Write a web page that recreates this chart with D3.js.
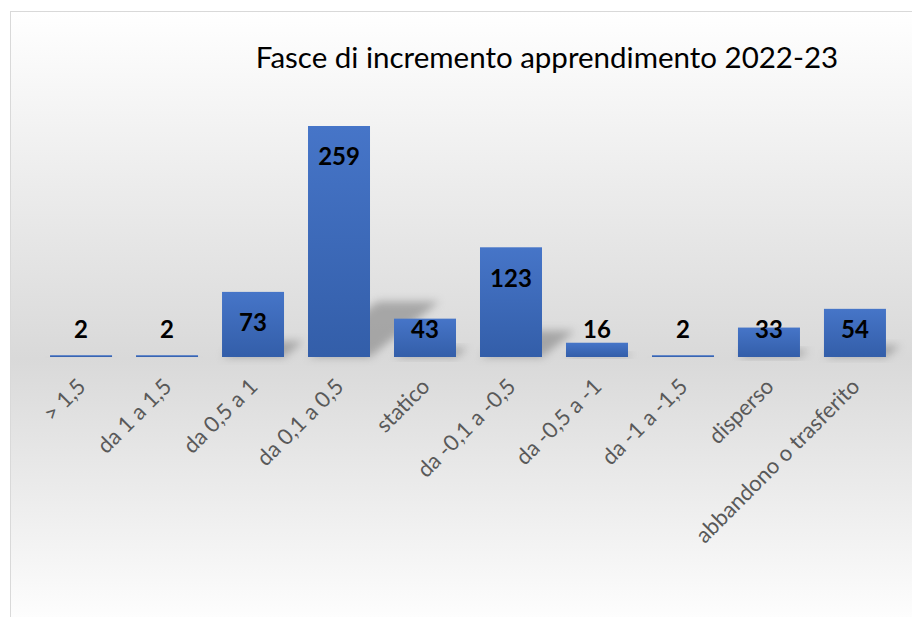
<!DOCTYPE html>
<html>
<head>
<meta charset="utf-8">
<script src="https://cdn.jsdelivr.net/npm/d3@7"></script>
<style>
  body { margin: 0; background: #fff; }
  svg { display: block; }
</style>
</head>
<body>
<div id="myChart"></div>
<script>
// Data
var title = "Fasce di incremento apprendimento 2022-23";
var categories = ["> 1,5", "da 1 a 1,5", "da 0,5 a 1", "da 0,1 a 0,5", "statico",
                  "da -0,1 a -0,5", "da -0,5 a -1", "da -1 a -1,5", "disperso",
                  "abbandono o trasferito"];
var values = [2, 2, 73, 259, 43, 123, 16, 2, 33, 54];

var width = 912, height = 617;
var baseY = 357;

var svg = d3.select("#myChart")
  .append("svg")
    .attr("width", width)
    .attr("height", height);

var defs = svg.append("defs");

// background: white at top, grey around the baseline, white again at bottom
var bg = defs.append("linearGradient")
  .attr("id", "bgGrad")
  .attr("x1", 0).attr("y1", 0).attr("x2", 0).attr("y2", 1);
bg.append("stop").attr("offset", "0%").attr("stop-color", "#ffffff");
bg.append("stop").attr("offset", "56%").attr("stop-color", "#d9d9d9");
bg.append("stop").attr("offset", "100%").attr("stop-color", "#ffffff");

var barGrad = defs.append("linearGradient")
  .attr("id", "barGrad")
  .attr("x1", 0).attr("y1", 0).attr("x2", 0).attr("y2", 1);
barGrad.append("stop").attr("offset", "0%").attr("stop-color", "#4675c8");
barGrad.append("stop").attr("offset", "100%").attr("stop-color", "#335ea9");

var blur = defs.append("filter")
  .attr("id", "shadowBlur")
  .attr("x", "-50%").attr("y", "-50%")
  .attr("width", "200%").attr("height", "200%");
blur.append("feGaussianBlur").attr("stdDeviation", 4);

// chart area box
svg.append("rect")
  .attr("x", 10.5)
  .attr("y", 11.5)
  .attr("width", 1080)
  .attr("height", 620)
  .attr("fill", "url(#bgGrad)")
  .attr("stroke", "#d9d9d9")
  .attr("stroke-width", 1);

// title
svg.append("text")
  .attr("x", 547)
  .attr("y", 68)
  .attr("text-anchor", "middle")
  .style("font-family", "Lato, 'Open Sans', sans-serif")
  .style("font-size", "29.5px")
  .attr("fill", "#000")
  .text(title);

// scales
var x = d3.scaleBand()
  .domain(categories)
  .range([38, 898])
  .paddingInner(0.279)
  .paddingOuter(0.14);

var y = d3.scaleLinear()
  .domain([0, 259])
  .range([baseY, 126]);

var data = categories.map(function(c, i) { return {cat: c, value: values[i]}; });

// perspective shadows behind the bars
svg.append("g")
  .selectAll("path")
  .data(data)
  .join("path")
    .attr("fill", "#6f6f6f")
    .attr("opacity", 0.5)
    .attr("filter", "url(#shadowBlur)")
    .attr("d", function(d) {
      var x0 = x(d.cat), x1 = x0 + x.bandwidth();
      var h = baseY - y(d.value);
      var sx = h * 0.30, sy = h * 0.24;
      return "M" + x0 + "," + baseY + "L" + x1 + "," + baseY +
             "L" + (x1 + sx) + "," + (baseY - sy) +
             "L" + (x0 + sx) + "," + (baseY - sy) + "Z";
    });

// bars
svg.append("g")
  .selectAll("rect")
  .data(data)
  .join("rect")
    .attr("x", function(d) { return x(d.cat); })
    .attr("y", function(d) { return y(d.value); })
    .attr("width", x.bandwidth())
    .attr("height", function(d) { return baseY - y(d.value); })
    .attr("fill", "url(#barGrad)");

// data labels
svg.append("g")
  .selectAll("text")
  .data(data)
  .join("text")
    .attr("x", function(d) { return x(d.cat) + x.bandwidth() / 2; })
    .attr("y", function(d) { return Math.min(y(d.value) + 31, 330); })
    .attr("dy", "0.35em")
    .attr("text-anchor", "middle")
    .style("font-family", "Lato, 'Open Sans', sans-serif")
    .style("font-weight", "bold")
    .style("font-size", "24px")
    .attr("fill", "#000")
    .text(function(d) { return d.value; });

// category labels, rotated
var xAxis = svg.append("g")
  .attr("transform", "translate(0," + baseY + ")")
  .call(d3.axisBottom(x).tickSize(0).tickPadding(0));
xAxis.select(".domain").remove();
xAxis.selectAll(".tick text")
  .attr("x", 0)
  .attr("y", 0)
  .attr("dy", 0)
  .attr("text-anchor", "end")
  .attr("transform", "translate(6,31) rotate(-45)")
  .style("font-family", "Lato, 'Open Sans', sans-serif")
  .style("font-size", "22px")
  .attr("fill", "#595959");
</script>
</body>
</html>
